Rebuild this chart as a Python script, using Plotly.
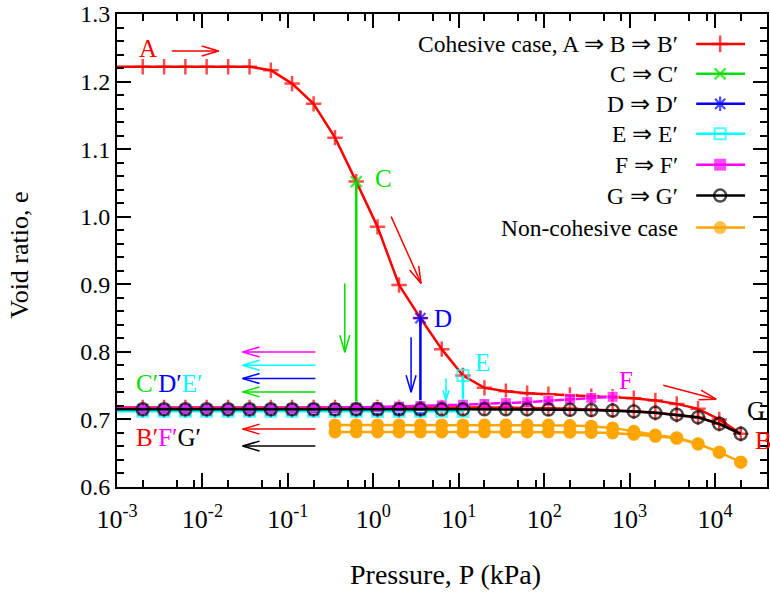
import math
import plotly.graph_objects as go

# ---------------- data ----------------
# pressure steps (kPa); first value is the left edge of the chart (no marker)
P = [0.001, 0.002, 0.00356, 0.00632, 0.0112, 0.02, 0.0356, 0.0632, 0.112, 0.2,
     0.356, 0.632, 1.12, 2.0, 3.56, 6.32, 11.2, 20.0, 35.6, 63.2,
     112, 200, 356, 632, 1120, 2000, 3560, 6320, 11200, 20000]

# cohesive loading A -> B (same length as P)
e_load = [1.222, 1.222, 1.222, 1.222, 1.222, 1.222, 1.222, 1.2168, 1.197, 1.167,
          1.117, 1.052, 0.985, 0.899, 0.850, 0.804, 0.765, 0.7467, 0.7417, 0.7387,
          0.7372, 0.7363, 0.7345, 0.7335, 0.7313, 0.728, 0.723, 0.7157, 0.700, 0.6787]
# cohesive unloading B -> B' (same length as P)
e_unload_B = [0.7176, 0.7176, 0.7176, 0.7176, 0.7176, 0.7176, 0.7176, 0.7176, 0.7176, 0.7176,
              0.7176, 0.7176, 0.7176, 0.7176, 0.7176, 0.7176, 0.7176, 0.7176, 0.7176, 0.7172,
              0.7166, 0.7158, 0.7148, 0.7136, 0.7120, 0.7098, 0.7068, 0.7030, 0.6935, 0.6787]
# G -> G' (same length as P)
e_G = [0.7150, 0.7150, 0.7150, 0.7150, 0.7150, 0.7150, 0.7150, 0.7150, 0.7150, 0.7150,
       0.7150, 0.7150, 0.7150, 0.7150, 0.7150, 0.7150, 0.7150, 0.7150, 0.7150, 0.7148,
       0.7146, 0.7143, 0.7138, 0.7131, 0.7118, 0.7098, 0.7070, 0.7032, 0.6935, 0.6787]
# F -> F' (P[0] .. P[23], F at P[23])
e_F = [0.7160, 0.7160, 0.7160, 0.7160, 0.7160, 0.7160, 0.7160, 0.7160, 0.7162, 0.7165,
       0.7170, 0.7176, 0.7182, 0.7190, 0.7198, 0.7208, 0.7218, 0.7228, 0.7240, 0.7255,
       0.7275, 0.7300, 0.7318, 0.7335]
# unloading from C, D, E (index into P of start point, start e, end e)
C_idx, C_top, C_end = 11, 1.052, 0.7150
D_idx, D_top, D_end = 14, 0.850, 0.7135
E_idx, E_top, E_end = 16, 0.765, 0.7120
# non-cohesive case (P[10] .. P[29])
nc_idx = 10
e_nc_load = [0.6918, 0.6918, 0.6918, 0.6918, 0.6918, 0.6918, 0.6918, 0.6918, 0.6918, 0.6918,
             0.6916, 0.6910, 0.6900, 0.6875, 0.6825, 0.6770, 0.6730, 0.6640, 0.6516, 0.6368]
e_nc_unl = [0.6815, 0.6815, 0.6815, 0.6815, 0.6815, 0.6815, 0.6815, 0.6815, 0.6815, 0.6815,
            0.6815, 0.6812, 0.6808, 0.6800, 0.6780, 0.6750, 0.6720, 0.6635, 0.6516, 0.6368]

# ---------------- geometry helpers (pixel -> paper) ----------------
W, H = 770, 594
L, R, T, B = 117, 769, 13, 487
def px(x):
    return (x - L) / (R - L)
def py(y):
    return (B - y) / (B - T)

FONT = "Liberation Serif"
RED, GREEN, BLUE, CYAN, MAG, BLACK, ORANGE = ("#ff0000", "#00e000", "#0000ff", "#00ffff",
                                              "#ff00ff", "#000000", "#ffa500")

fig = go.Figure()

# red cohesive A -> B -> B'
rx = P + P[::-1][1:]
ry = e_load + e_unload_B[::-1][1:]
rs = [0] + [11] * (len(P) - 1) + [11] * (len(P) - 2) + [0]
fig.add_trace(go.Scatter(x=rx, y=ry, mode="lines+markers",
                         line=dict(color=RED, width=2.5),
                         marker=dict(symbol="cross-thin", size=rs, color=RED,
                                     line=dict(color=RED, width=2.5)),
                         showlegend=False))

def drop_path(idx, top, end, color, symbol, size, lw=2.5):
    xs = [P[idx]] + P[idx::-1]
    ys = [top] + [end] * (idx + 1)
    ss = [size] * (len(xs) - 1) + [0]
    mk = dict(symbol=symbol, size=ss, color=color, line=dict(color=color, width=lw))
    fig.add_trace(go.Scatter(x=xs, y=ys, mode="lines+markers",
                             line=dict(color=color, width=2.5), marker=mk, showlegend=False))

drop_path(C_idx, C_top, C_end, GREEN, "x-thin", 11)
drop_path(D_idx, D_top, D_end, BLUE, "asterisk", 12, 2.2)
drop_path(E_idx, E_top, E_end, CYAN, "square-open", 11, 2)

# magenta F -> F'
fx = P[:len(e_F)]
fig.add_trace(go.Scatter(x=fx[::-1], y=e_F[::-1], mode="lines+markers",
                         line=dict(color=MAG, width=2.5),
                         marker=dict(symbol="square", size=([0] + [11] * (len(fx) - 1))[::-1],
                                     color=MAG),
                         showlegend=False))
# black G -> G'
fig.add_trace(go.Scatter(x=P[::-1], y=e_G[::-1], mode="lines+markers",
                         line=dict(color=BLACK, width=2.5),
                         marker=dict(symbol="circle-open", size=([0] + [12] * (len(P) - 1))[::-1],
                                     color=BLACK, line=dict(color=BLACK, width=2.5)),
                         showlegend=False))
# orange non-cohesive (loading and unloading)
ox = P[nc_idx:] + P[nc_idx:][::-1]
oy = e_nc_load + e_nc_unl[::-1]
fig.add_trace(go.Scatter(x=ox, y=oy, mode="lines+markers",
                         line=dict(color=ORANGE, width=2.5),
                         marker=dict(symbol="circle", size=13, color=ORANGE),
                         showlegend=False))

# ---------------- legend (drawn manually, gnuplot style) ----------------
legend_items = [
    ("Cohesive case, A \u21d2 B \u21d2 B\u2032", RED, "cross-thin", 12, 2.5),
    ("C \u21d2 C\u2032", GREEN, "x-thin", 11, 2.5),
    ("D \u21d2 D\u2032", BLUE, "asterisk", 12, 2.2),
    ("E \u21d2 E\u2032", CYAN, "square-open", 11, 2),
    ("F \u21d2 F\u2032", MAG, "square", 12, 0),
    ("G \u21d2 G\u2032", BLACK, "circle-open", 12, 2.5),
    ("Non-cohesive case", ORANGE, "circle", 13, 0),
]
row_y = [43, 73, 103, 133, 164, 195, 227]
annotations = []
for (txt, col, sym, sz, lw), yy in zip(legend_items, row_y):
    annotations.append(dict(x=px(682), y=py(yy), xref="paper", yref="paper", text=txt,
                            showarrow=False, xanchor="right", yanchor="middle",
                            font=dict(family=FONT, size=23.5, color="black")))
    fig.add_trace(go.Scatter(x=[px(698), px(722), px(747)], y=[py(yy)] * 3,
                             xaxis="x2", yaxis="y2", mode="lines+markers",
                             line=dict(color=col, width=2.5),
                             marker=dict(symbol=sym, size=[0, sz, 0], color=col,
                                         line=dict(color=col, width=lw)),
                             showlegend=False, hoverinfo="skip"))

# ---------------- text labels ----------------
def label(x, y, txt, col, size=25, anchor="center"):
    annotations.append(dict(x=px(x), y=py(y), xref="paper", yref="paper", text=txt,
                            showarrow=False, xanchor=anchor, yanchor="middle",
                            font=dict(family=FONT, size=size, color=col)))

label(148, 48, "A", RED)
label(384, 178, "C", GREEN)
label(444, 318, "D", BLUE)
label(484, 362, "E", CYAN)
label(628, 380, "F", MAG)
label(747, 410, "G", BLACK, anchor="left")
label(755, 440, "B", RED, anchor="left")
label(134, 383, "<span style='color:%s'>C\u2032</span><span style='color:%s'>D\u2032</span>"
      "<span style='color:%s'>E\u2032</span>" % (GREEN, BLUE, CYAN), BLACK, anchor="left")
label(134, 437, "<span style='color:%s'>B\u2032</span><span style='color:%s'>F\u2032</span>"
      "<span style='color:%s'>G\u2032</span>" % (RED, MAG, BLACK), BLACK, anchor="left")

# axis titles
annotations.append(dict(x=px(447), y=py(575), xref="paper", yref="paper", text="Pressure, P (kPa)",
                        showarrow=False, xanchor="center", yanchor="middle",
                        font=dict(family=FONT, size=28, color="black")))
annotations.append(dict(x=px(19), y=py(255), xref="paper", yref="paper", text="Void ratio, e",
                        showarrow=False, xanchor="center", yanchor="middle", textangle=-90,
                        font=dict(family=FONT, size=26, color="black")))

# ---------------- arrows ----------------
shapes = []
def arrow(x0, y0, x1, y1, col, head=17, half=5, w=1.5):
    dx, dy = x1 - x0, y1 - y0
    d = math.hypot(dx, dy)
    ux, uy = dx / d, dy / d
    nx, ny = -uy, ux
    bx, by = x1 - ux * head, y1 - uy * head
    for (a, b, c, e) in [(x0, y0, x1, y1),
                         (bx + nx * half, by + ny * half, x1, y1),
                         (bx - nx * half, by - ny * half, x1, y1)]:
        shapes.append(dict(type="line", xref="paper", yref="paper",
                           x0=px(a), y0=py(b), x1=px(c), y1=py(e),
                           line=dict(color=col, width=w)))

arrow(172, 50, 219, 50, RED)
arrow(392, 216, 422, 283, RED)
arrow(665, 385, 718, 399, RED)
arrow(345.5, 283, 345.5, 352, GREEN)
arrow(412, 337, 412, 392, BLUE)
arrow(447, 378, 447, 400, CYAN, head=10, half=3)
for yy, col in [(351.7, MAG), (365, CYAN), (378.3, BLUE), (391.7, GREEN), (429, RED), (446, BLACK)]:
    arrow(316, yy, 243, yy, col)

# ---------------- axes ----------------
xt = [1e-3, 1e-2, 1e-1, 1, 10, 100, 1e3, 1e4]
xt_text = ["10<sup>-3</sup>", "10<sup>-2</sup>", "10<sup>-1</sup>", "10<sup>0</sup>",
           "10<sup>1</sup>", "10<sup>2</sup>", "10<sup>3</sup>", "10<sup>4</sup>"]
x_minor = [m * d for d in [1e-3, 1e-2, 1e-1, 1, 10, 100, 1e3, 1e4] for m in (2, 5, 8)]
y_major = [0.6, 0.7, 0.8, 0.9, 1.0, 1.1, 1.2, 1.3]
y_text = ["0.6", "0.7", "0.8", "0.9", "1.0", "1.1", "1.2", "1.3"]

fig.update_layout(
    width=W, height=H, margin=dict(l=L, r=W - R, t=T, b=H - B),
    paper_bgcolor="white", plot_bgcolor="white",
    font=dict(family=FONT, size=24, color="black"),
    showlegend=False,
    xaxis=dict(type="log", range=[-3, 4.608], tickmode="array", tickvals=xt, ticktext=xt_text,
               ticks="inside", ticklen=14, tickwidth=1.5, tickcolor="black",
               showline=True, linecolor="black", linewidth=2, mirror="ticks",
               showgrid=False, zeroline=False, tickfont=dict(family=FONT, size=26),
               ticklabelstandoff=8,
               minor=dict(tickmode="array", tickvals=x_minor, ticks="inside", ticklen=7,
                          tickwidth=1.5, tickcolor="black", showgrid=False)),
    yaxis=dict(range=[0.6, 1.3], tickmode="array", tickvals=y_major, ticktext=y_text,
               ticks="inside", ticklen=14, tickwidth=1.5, tickcolor="black",
               showline=True, linecolor="black", linewidth=2, mirror="ticks",
               showgrid=False, zeroline=False, tickfont=dict(family=FONT, size=24),
               minor=dict(dtick=0.02, tick0=0.6, ticks="inside", ticklen=7,
                          tickwidth=1.5, tickcolor="black", showgrid=False)),
    xaxis2=dict(overlaying="x", range=[0, 1], visible=False, fixedrange=True),
    yaxis2=dict(overlaying="y", range=[0, 1], visible=False, fixedrange=True),
    annotations=annotations, shapes=shapes,
)

fig.write_html("out.html")
